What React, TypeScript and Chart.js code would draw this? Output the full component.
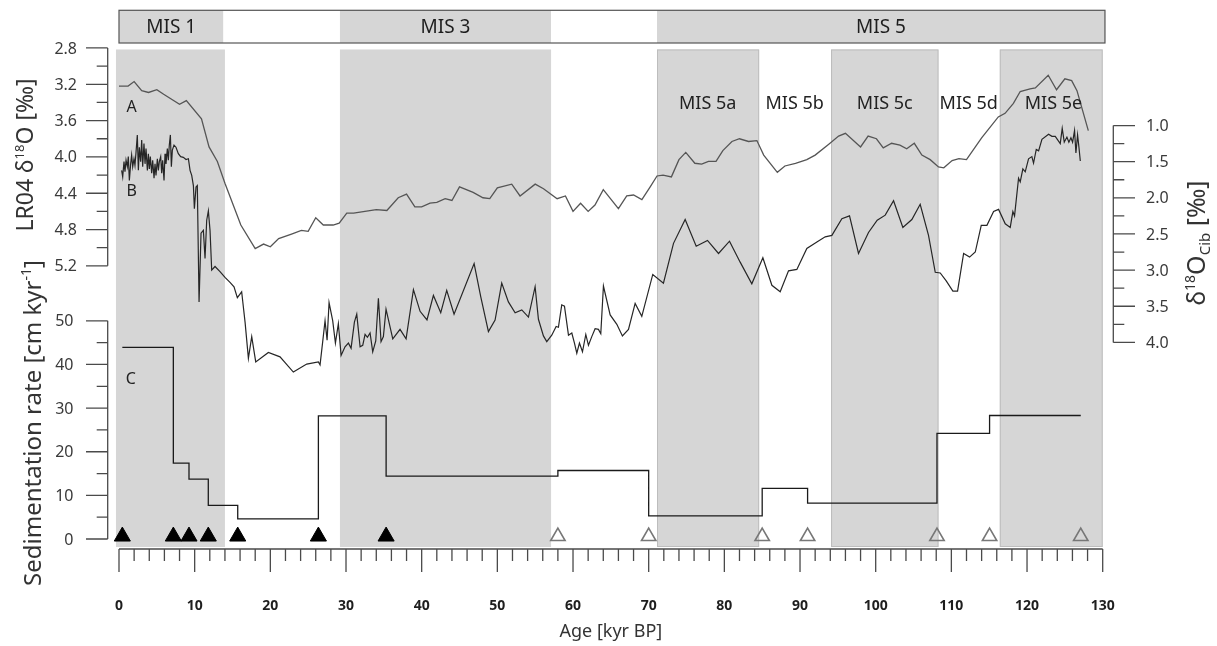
import React, { useEffect, useRef } from "react";
import { Chart, registerables } from "chart.js";
Chart.register(...registerables);

// ---- Curve A: LR04 benthic stack (age kyr BP, δ18O ‰)
const ageA = [0, 1.2, 2, 3, 3.9, 5, 5.9, 8, 8.9, 10.9, 11.9, 13, 14, 16.1, 18, 19.1, 20, 21.1, 22.8, 24.1, 25, 26, 27, 28.3, 29.1, 30.1, 31, 32.5, 34, 35.4, 36.9, 38, 39.1, 40, 41.1, 42, 43.1, 44, 45, 46.8, 48.1, 49, 50, 51.9, 53, 55, 56.1, 57.9, 59, 60, 61, 62, 62.9, 64, 66, 67.1, 68, 69.1, 70.2, 71.1, 71.9, 73, 74, 74.9, 76.1, 77, 77.9, 78.9, 79.8, 81, 82, 83.2, 84.3, 85.2, 87, 88, 89.4, 90.9, 92, 93.8, 95.1, 96, 98, 99, 100.1, 101, 102.1, 103.2, 104.1, 105.1, 106.1, 107.2, 108.3, 109, 110.1, 111, 112, 114, 116.2, 117.1, 118.2, 119.1, 120.4, 121.1, 122.8, 123.9, 125, 125.9, 126.6, 128.1];
const lr04 = [3.22, 3.22, 3.17, 3.27, 3.29, 3.26, 3.31, 3.42, 3.38, 3.58, 3.89, 4.05, 4.29, 4.75, 5.01, 4.96, 4.99, 4.9, 4.85, 4.81, 4.82, 4.67, 4.75, 4.75, 4.73, 4.62, 4.62, 4.6, 4.58, 4.59, 4.45, 4.41, 4.55, 4.55, 4.51, 4.5, 4.46, 4.48, 4.33, 4.39, 4.45, 4.46, 4.34, 4.3, 4.43, 4.3, 4.35, 4.46, 4.43, 4.6, 4.51, 4.6, 4.53, 4.36, 4.57, 4.43, 4.42, 4.47, 4.33, 4.21, 4.2, 4.22, 4.03, 3.95, 4.07, 4.08, 4.05, 4.05, 3.93, 3.83, 3.8, 3.83, 3.82, 3.98, 4.17, 4.1, 4.07, 4.03, 3.98, 3.86, 3.77, 3.74, 3.89, 3.77, 3.8, 3.9, 3.85, 3.87, 3.91, 3.85, 3.98, 4.03, 4.11, 4.12, 4.04, 4.02, 4.03, 3.79, 3.56, 3.52, 3.41, 3.28, 3.25, 3.24, 3.1, 3.26, 3.14, 3.16, 3.27, 3.71];

// ---- Curve B: δ18O Cibicidoides (age kyr BP, ‰)
const ageB = [0.35, 0.49, 0.66, 0.79, 0.93, 1.1, 1.23, 1.37, 1.54, 1.67, 1.81, 1.98, 2.11, 2.25, 2.42, 2.56, 2.69, 2.86, 3.0, 3.13, 3.3, 3.44, 3.57, 3.75, 3.88, 4.01, 4.14, 4.32, 4.45, 4.63, 4.76, 4.89, 5.07, 5.2, 5.33, 5.51, 5.64, 5.77, 5.95, 6.08, 6.21, 6.39, 6.52, 6.65, 6.79, 6.92, 7.05, 7.27, 7.53, 7.84, 8.15, 8.5, 8.86, 9.17, 9.39, 9.61, 9.83, 9.96, 10.18, 10.35, 10.58, 10.84, 11.15, 11.37, 11.59, 11.81, 12.03, 12.25, 12.69, 13.35, 14.01, 14.67, 15.2, 15.64, 16.21, 16.66, 17.1, 17.54, 18.07, 19.74, 21.28, 23.04, 24.81, 26.35, 26.57, 26.92, 27.23, 27.5, 27.76, 28.24, 28.6, 28.99, 29.35, 29.87, 30.32, 30.67, 31.11, 31.42, 31.86, 32.21, 32.52, 32.83, 33.18, 33.53, 33.93, 34.28, 34.63, 34.94, 35.29, 36.18, 37.14, 37.94, 38.91, 39.79, 40.7, 41.55, 42.52, 43.31, 44.28, 46.93, 47.81, 48.82, 49.7, 50.58, 51.46, 52.35, 53.23, 54.11, 54.99, 55.43, 56.09, 56.53, 57.19, 57.77, 58.07, 58.51, 58.87, 59.4, 59.84, 60.19, 60.5, 60.85, 61.25, 61.69, 62.04, 62.48, 62.92, 63.36, 63.67, 64.02, 64.91, 65.79, 66.53, 67.33, 68.21, 69.09, 70.54, 71.95, 73.28, 74.82, 76.28, 77.77, 79.23, 80.68, 82.09, 83.63, 85.09, 86.28, 87.38, 88.48, 89.58, 90.9, 92.23, 93.33, 94.21, 95.53, 96.54, 97.73, 99.05, 100.2, 101.26, 102.36, 103.59, 104.78, 105.88, 106.98, 107.87, 108.53, 109.32, 110.2, 110.82, 111.62, 112.41, 113.16, 113.95, 114.7, 115.58, 116.24, 117.12, 117.78, 118.13, 118.35, 118.88, 119.1, 119.45, 119.76, 120.2, 120.64, 120.86, 121.22, 121.53, 121.97, 122.85, 123.29, 123.73, 124.39, 124.65, 124.92, 125.27, 125.53, 125.8, 126.02, 126.28, 126.46, 126.68, 126.86, 127.04];
const d18oCib = [1.62, 1.71, 1.5, 1.64, 1.48, 1.57, 1.43, 1.76, 1.53, 1.41, 1.57, 1.46, 1.55, 1.37, 1.13, 1.62, 1.3, 1.5, 1.2, 1.57, 1.25, 1.53, 1.32, 1.62, 1.39, 1.6, 1.43, 1.66, 1.48, 1.73, 1.53, 1.69, 1.46, 1.62, 1.5, 1.43, 1.66, 1.48, 1.76, 1.39, 1.53, 1.32, 1.48, 1.27, 1.13, 1.57, 1.34, 1.27, 1.3, 1.39, 1.43, 1.44, 1.47, 1.46, 1.62, 1.69, 1.83, 2.15, 1.85, 1.83, 3.44, 2.49, 2.45, 2.84, 2.31, 2.18, 2.45, 3.0, 2.95, 3.02, 3.1, 3.17, 3.23, 3.38, 3.3, 3.72, 4.22, 3.92, 4.27, 4.14, 4.2, 4.41, 4.3, 4.27, 4.31, 3.99, 3.7, 3.97, 3.45, 3.7, 4.01, 3.74, 4.18, 4.06, 4.01, 4.08, 3.72, 3.61, 4.06, 4.04, 3.89, 3.93, 3.87, 4.13, 3.98, 3.39, 3.99, 3.92, 3.54, 3.95, 3.82, 3.95, 3.27, 3.57, 3.69, 3.35, 3.59, 3.28, 3.61, 2.91, 3.37, 3.85, 3.69, 3.18, 3.44, 3.59, 3.55, 3.65, 3.23, 3.68, 3.91, 3.99, 3.9, 3.78, 3.79, 3.48, 3.5, 3.9, 3.87, 4.01, 4.15, 4.01, 4.13, 3.89, 4.04, 3.92, 3.81, 3.82, 3.88, 3.22, 3.62, 3.75, 3.91, 3.82, 3.46, 3.64, 3.06, 3.18, 2.63, 2.3, 2.67, 2.59, 2.77, 2.6, 2.89, 3.19, 2.83, 3.21, 3.3, 3.01, 2.99, 2.7, 2.61, 2.54, 2.52, 2.29, 2.25, 2.77, 2.48, 2.31, 2.24, 2.04, 2.41, 2.3, 2.09, 2.52, 3.03, 3.04, 3.15, 3.29, 3.29, 2.77, 2.82, 2.75, 2.38, 2.38, 2.19, 2.16, 2.36, 2.41, 2.19, 2.25, 1.73, 1.78, 1.6, 1.64, 1.46, 1.43, 1.52, 1.33, 1.35, 1.19, 1.12, 1.15, 1.15, 1.25, 1.04, 1.23, 1.16, 1.23, 1.17, 1.23, 1.07, 1.38, 1.13, 1.3, 1.49];

// ---- Curve C: sedimentation rate (interval start ages, cm/kyr)
const sedAge = [0.44, 7.18, 9.25, 11.8, 15.69, 26.35, 35.3, 58.0, 70.0, 85.0, 91.0, 108.1, 115.05, 127.1];
const sedRate = [43.9, 17.4, 13.7, 7.7, 4.6, 28.2, 14.4, 15.7, 5.3, 11.6, 8.2, 24.2, 28.3, 28.3];

// ---- Age tie points
const tieFilled = [0.44, 7.18, 9.25, 11.8, 15.69, 26.35, 35.3];
const tieOpen = [58.0, 70.0, 85.0, 91.0, 108.1, 115.05, 127.1];

// ---- MIS bands
const barNames = ["MIS 1", "", "MIS 3", "", "MIS 5"];
const barStart = [0, 13.8, 29.2, 57.1, 71.1];
const barEnd = [13.8, 29.2, 57.1, 71.1, 130.3];
const barShaded = [true, false, true, false, true];
const shadeStart = [-0.4, 29.2, 71.1, 94.1, 116.4];
const shadeEnd = [14.0, 57.1, 84.6, 108.3, 130.0];
const shadeEdge = [false, false, true, true, true];
const subNames = ["MIS 5a", "MIS 5b", "MIS 5c", "MIS 5d", "MIS 5e"];
const subCenter = [77.8, 89.3, 101.2, 112.3, 123.5];

// ---- ticks
const xMajor = [0, 10, 20, 30, 40, 50, 60, 70, 80, 90, 100, 110, 120, 130];
const lr04Ticks = [2.8, 3.2, 3.6, 4.0, 4.4, 4.8, 5.2];
const cibTicks = [1.0, 1.5, 2.0, 2.5, 3.0, 3.5, 4.0];
const sedTicks = [0, 10, 20, 30, 40, 50];

const FONT = "'Noto Sans', 'DejaVu Sans', sans-serif";
const INK = "#3a3a3a";
const SHADE = "#d6d6d6";

type Part = { t: string; size: number; dy: number };
function drawRich(ctx: CanvasRenderingContext2D, parts: Part[], x: number, y: number, rot: number) {
  ctx.save();
  ctx.translate(x, y);
  ctx.rotate(rot);
  let total = 0;
  const widths = parts.map((p) => {
    ctx.font = `${p.size}px ${FONT}`;
    const w = ctx.measureText(p.t).width;
    total += w;
    return w;
  });
  let cx = -total / 2;
  ctx.textAlign = "left";
  ctx.textBaseline = "alphabetic";
  parts.forEach((p, i) => {
    ctx.font = `${p.size}px ${FONT}`;
    ctx.fillText(p.t, cx, p.dy);
    cx += widths[i];
  });
  ctx.restore();
}

const shadePlugin = {
  id: "shade",
  beforeDatasetsDraw(chart: any) {
    const { ctx, chartArea, scales } = chart;
    const x = scales.x;
    const top = scales.yA.getPixelForValue(2.8) + 1.5;
    const bottom = chartArea.bottom - 2;
    ctx.save();
    shadeStart.forEach((s, i) => {
      const x0 = x.getPixelForValue(s);
      const x1 = x.getPixelForValue(shadeEnd[i]);
      ctx.fillStyle = SHADE;
      ctx.fillRect(x0, top, x1 - x0, bottom - top);
      if (shadeEdge[i]) {
        ctx.strokeStyle = "#bdbdbd";
        ctx.lineWidth = 1;
        ctx.strokeRect(x0 + 0.5, top + 0.5, x1 - x0 - 1, bottom - top - 1);
      }
    });
    // top MIS bar
    const bt = chartArea.top;
    const bh = 32.7;
    barStart.forEach((s, i) => {
      const x0 = x.getPixelForValue(s);
      const x1 = x.getPixelForValue(barEnd[i]);
      ctx.fillStyle = barShaded[i] ? SHADE : "#ffffff";
      ctx.fillRect(x0, bt, x1 - x0, bh);
    });
    ctx.strokeStyle = "#555";
    ctx.lineWidth = 1.2;
    const bx0 = x.getPixelForValue(barStart[0]);
    const bx1 = x.getPixelForValue(barEnd[barEnd.length - 1]);
    ctx.strokeRect(bx0, bt, bx1 - bx0, bh);
    ctx.fillStyle = "#1e1e1e";
    ctx.font = `19px ${FONT}`;
    ctx.textAlign = "center";
    ctx.textBaseline = "middle";
    barNames.forEach((n, i) => {
      if (!n) return;
      const cx = (x.getPixelForValue(barStart[i]) + x.getPixelForValue(barEnd[i])) / 2;
      ctx.fillText(n, cx, bt + bh / 2 + 1);
    });
    ctx.restore();
  },
};

const axesPlugin = {
  id: "axes",
  afterDatasetsDraw(chart: any) {
    const { ctx, chartArea, scales } = chart;
    const x = scales.x;
    const yA = scales.yA;
    const yB = scales.yB;
    const yC = scales.yC;
    ctx.save();
    ctx.strokeStyle = "#4a4a4a";
    ctx.fillStyle = INK;
    ctx.lineWidth = 1.3;

    // x axis
    const xb = chartArea.bottom;
    ctx.beginPath();
    ctx.moveTo(x.getPixelForValue(0), xb);
    ctx.lineTo(x.getPixelForValue(130), xb);
    for (let a = 0; a <= 130; a += 2) {
      const px = x.getPixelForValue(a);
      const len = a % 10 === 0 ? 23 : 12;
      ctx.moveTo(px, xb);
      ctx.lineTo(px, xb + len);
    }
    ctx.stroke();
    ctx.font = `bold 14px ${FONT}`;
    ctx.textAlign = "center";
    ctx.textBaseline = "middle";
    ctx.fillStyle = "#1e1e1e";
    xMajor.forEach((a) => ctx.fillText(String(a), x.getPixelForValue(a), xb + 57));
    ctx.font = `18px ${FONT}`;
    ctx.fillStyle = "#333";
    ctx.fillText("Age [kyr BP]", (x.getPixelForValue(0) + x.getPixelForValue(130)) / 2, xb + 83);

    // vertical axes
    const lx = chartArea.left - 11.3;
    const rx = chartArea.right + 10.6;
    const lx0 = (side: number) => (side < 0 ? lx : rx);
    const vAxis = (scale: any, ticks: number[], step: number, side: number, dec: number, labelX: number) => {
      ctx.beginPath();
      ctx.moveTo(lx0(side), scale.getPixelForValue(ticks[0]));
      ctx.lineTo(lx0(side), scale.getPixelForValue(ticks[ticks.length - 1]));
      for (let i = 0; i < ticks.length; i++) {
        const py = scale.getPixelForValue(ticks[i]);
        ctx.moveTo(lx0(side), py);
        ctx.lineTo(lx0(side) + side * 21.7, py);
        if (i < ticks.length - 1) {
          const pm = scale.getPixelForValue(ticks[i] + step / 2);
          ctx.moveTo(lx0(side), pm);
          ctx.lineTo(lx0(side) + side * 11, pm);
        }
      }
      ctx.stroke();
      ctx.font = `16px ${FONT}`;
      ctx.textBaseline = "middle";
      ctx.textAlign = side < 0 ? "right" : "left";
      ctx.fillStyle = INK;
      ticks.forEach((t) => ctx.fillText(t.toFixed(dec), labelX, scale.getPixelForValue(t) + 1));
    };
    vAxis(yA, lr04Ticks, 0.4, -1, 1, 77);
    vAxis(yC, sedTicks, 10, -1, 0, 73.5);
    vAxis(yB, cibTicks, 0.5, 1, 1, 1146);

    // axis titles
    ctx.fillStyle = "#333";
    drawRich(ctx, [
      { t: "LR04 δ", size: 23, dy: 0 },
      { t: "18", size: 13, dy: -9 },
      { t: "O [‰]", size: 23, dy: 0 },
    ], 33, 155, -Math.PI / 2);
    drawRich(ctx, [
      { t: "Sedimentation rate [cm kyr", size: 24, dy: 0 },
      { t: "-1", size: 14, dy: -10 },
      { t: "]", size: 24, dy: 0 },
    ], 41, 423, -Math.PI / 2);
    drawRich(ctx, [
      { t: "δ", size: 25, dy: 0 },
      { t: "18", size: 14, dy: -10 },
      { t: "O", size: 25, dy: 0 },
      { t: "Cib", size: 15, dy: 5 },
      { t: " [‰]", size: 25, dy: 0 },
    ], 1205, 243, -Math.PI / 2);

    // panel letters and substage labels
    ctx.fillStyle = "#222";
    ctx.font = `16px ${FONT}`;
    ctx.textAlign = "center";
    ctx.textBaseline = "middle";
    ctx.fillText("A", x.getPixelForValue(1.68), yA.getPixelForValue(3.456));
    ctx.fillText("B", x.getPixelForValue(1.68), yA.getPixelForValue(4.385));
    ctx.fillText("C", x.getPixelForValue(1.55), yC.getPixelForValue(36.6));
    ctx.font = `18px ${FONT}`;
    subNames.forEach((n, i) => ctx.fillText(n, x.getPixelForValue(subCenter[i]), yA.getPixelForValue(3.42)));
    ctx.restore();
  },
};

export default function App() {
  const ref = useRef<HTMLCanvasElement>(null);
  useEffect(() => {
    const canvas = ref.current;
    if (!canvas) return;
    const chart = new Chart(canvas, {
      type: "line",
      data: {
        datasets: [
          {
            label: "LR04",
            data: ageA.map((a, i) => ({ x: a, y: lr04[i] })),
            yAxisID: "yA",
            borderColor: "#555555",
            borderWidth: 1.3,
            pointRadius: 0,
            tension: 0,
          },
          {
            label: "Cib",
            data: ageB.map((a, i) => ({ x: a, y: d18oCib[i] })),
            yAxisID: "yB",
            borderColor: "#262626",
            borderWidth: 1.2,
            pointRadius: 0,
            tension: 0,
          },
          {
            label: "Sed",
            data: sedAge.map((a, i) => ({ x: a, y: sedRate[i] })),
            yAxisID: "yC",
            borderColor: "#1a1a1a",
            borderWidth: 1.3,
            pointRadius: 0,
            stepped: "before",
          },
          {
            label: "tie14C",
            data: tieFilled.map((a) => ({ x: a, y: 0.6 })),
            yAxisID: "yC",
            showLine: false,
            pointStyle: "triangle",
            pointRadius: 9.3,
            pointBackgroundColor: "#000",
            pointBorderColor: "#000",
            pointBorderWidth: 1,
            clip: false,
          },
          {
            label: "tieOther",
            data: tieOpen.map((a) => ({ x: a, y: 0.6 })),
            yAxisID: "yC",
            showLine: false,
            pointStyle: "triangle",
            pointRadius: 8.3,
            pointBackgroundColor: "rgba(255,255,255,0)",
            pointBorderColor: "#777",
            pointBorderWidth: 1.6,
            clip: false,
          },
        ],
      },
      options: {
        responsive: false,
        animation: false,
        devicePixelRatio: 1,
        events: [],
        layout: { padding: { left: 119, right: 114.3, top: 10, bottom: 97 } },
        plugins: { legend: { display: false }, tooltip: { enabled: false } },
        scales: {
          x: { type: "linear", min: 0, max: 130, display: false },
          yA: { type: "linear", min: 2.385, max: 8.319, reverse: true, display: false },
          yB: { type: "linear", min: -0.594, max: 6.858, reverse: true, display: false },
          yC: { type: "linear", min: -2.29, max: 121.16, display: false },
        },
      } as any,
      plugins: [shadePlugin, axesPlugin],
    });
    return () => chart.destroy();
  }, []);
  return (
    <div style={{ position: "fixed", left: 0, top: 0, width: 1217, height: 646, background: "#fff" }}>
      <canvas ref={ref} width={1217} height={646} style={{ display: "block" }} />
    </div>
  );
}
